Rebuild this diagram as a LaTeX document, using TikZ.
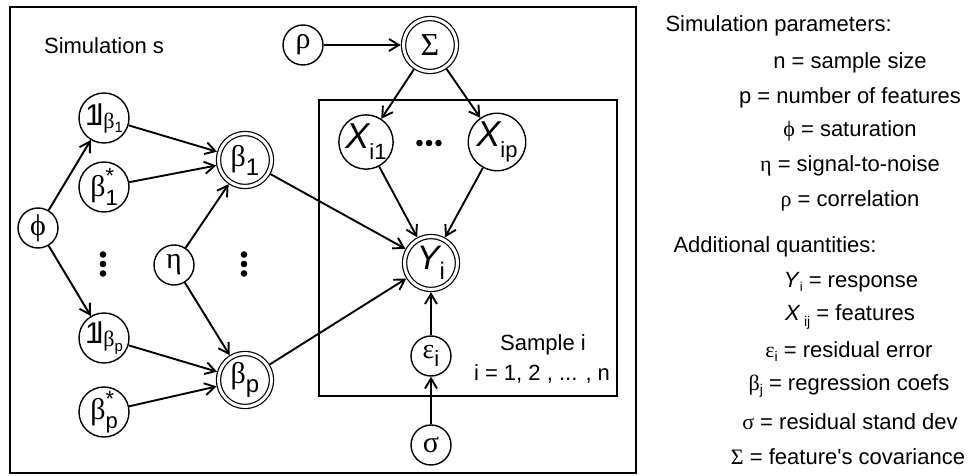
\documentclass[tikz,border=0pt]{standalone}
\usepackage{fontspec}
\setmainfont{Liberation Sans}
\newfontfamily\grk{Liberation Serif}
\usetikzlibrary{arrows.meta}
\usetikzlibrary{positioning}
\newcommand{\fs}[1]{\fontsize{#1}{#1}\selectfont}
\newcommand{\lo}[2][0.3em]{\raisebox{-#1}{#2}}
\newcommand{\indic}{{\fs{30}1\kern-.17em l}}

\begin{document}
\begin{tikzpicture}
    [x=1pt, y=-1pt, on grid,
     var/.style={circle, draw, line width=1.4pt, inner sep=0pt, minimum size=40pt},
     bigvar/.style={var, minimum size=50pt},
     dvar/.style={circle, draw, double, double distance=3pt, line width=1.2pt, inner sep=0pt, minimum size=53pt, outer sep=2.7pt},
     arr/.style={-{Straight Barb[length=10pt,width=12pt]}, line width=1.9pt},
     plate/.style={draw, line width=1.6pt},
     lbl/.style={font=\fs{22}, anchor=base},
     gk/.style={font=\grk\fs{30}}]

    \useasboundingbox (0,0) rectangle (970,476);
    \draw [plate, line width=1.8pt] (10,7) rectangle (636,473);
    \draw [plate] (319,100) rectangle (617,396);

    \node [var, gk] (phi) at (38,228) {ϕ};
    \node [bigvar] (ind1) at (104,118) {\indic\lo{\grk\fs{22}β\lo[.2em]{\normalfont\fs{15}1}}};
    \node [bigvar, below=69pt of ind1] (star1) {\grk\fs{30}β\rlap{\raisebox{.42em}{\normalfont\fs{22}*}}\lo{\normalfont\fs{22}1}};
    \node [bigvar] (indp) at (104,338) {\indic\lo{\grk\fs{22}β\lo[.2em]{\normalfont\fs{15}p}}};
    \node [bigvar, below=74pt of indp] (starp) {\grk\fs{30}β\rlap{\raisebox{.42em}{\normalfont\fs{22}*}}\lo{\normalfont\fs{22}p}};
    \node [dvar] (beta1) at (245,160) {\grk\fs{30}β\lo{\normalfont\fs{24}1}};
    \node [dvar, below=220pt of beta1] (betap) {\grk\fs{30}β\lo{\normalfont\fs{24}p}};
    \node [var, gk] (eta) at (174,265) {η};

    \node [var, gk] (rho) at (303,45) {ρ};
    \node [dvar, right=127pt of rho] (Sigma) {\grk\fs{32}Σ};
    \node [bigvar] (X1) at (366,142) {\itshape\fs{36}X\lo{\upshape\fs{22}i1}};
    \node [bigvar, right=131pt of X1] (Xp) {\itshape\fs{36}X\lo{\upshape\fs{22}ip}};
    \node [dvar] (Y) at (431,263) {\itshape\fs{34}Y\lo{\upshape\fs{24}i}};
    \node [var, below=93pt of Y] (eps) {\grk\fs{28}ε\lo{\normalfont\fs{22}i}};
    \node [var, gk, below=89pt of eps] (sigma) {σ};

    \coordinate (dotsL) at (103,264);
    \coordinate (dotsR) at (244,264);
    \coordinate (dotsX) at (429,143);
    \foreach \d in {-9.5,0,9.5} {
        \fill ([yshift=\d pt] dotsL) circle (3.3pt);
        \fill ([yshift=\d pt] dotsR) circle (3.3pt);
        \fill ([xshift=\d pt] dotsX) circle (3.3pt);
    }

    \path [arr] (phi) edge (ind1);
    \path [arr] (phi) edge (indp);
    \path [arr] (ind1) edge (beta1);
    \path [arr] (star1) edge (beta1);
    \path [arr] (eta) edge (beta1);
    \path [arr] (eta) edge (betap);
    \path [arr] (indp) edge (betap);
    \path [arr] (starp) edge (betap);
    \path [arr] (beta1) edge (Y);
    \path [arr] (betap) edge (Y);
    \path [arr] (rho) edge (Sigma);
    \path [arr] (Sigma) edge (X1);
    \path [arr] (Sigma) edge (Xp);
    \path [arr] (X1) edge (Y);
    \path [arr] (Xp) edge (Y);
    \path [arr] (eps) edge (Y);
    \path [arr] (sigma) edge (eps);

    \node [lbl] (simlbl) at (104,54) {Simulation s};
    \node [lbl] (samplbl) at (543,350) {Sample i};
    \node [lbl] (rangelbl) at (542,380) {i = 1, 2 , ... , n};

    \node [lbl, anchor=base west] (parhead) at (662,32) {Simulation parameters:};
    \node [lbl] (par1) at (850,69) {n = sample size};
    \node [lbl] (par2) at (850,104) {p = number of features};
    \node [lbl] (par3) at (850,137) {{\grk ϕ} = saturation};
    \node [lbl] (par4) at (850,172) {{\grk η} = signal-to-noise};
    \node [lbl] (par5) at (850,207) {{\grk ρ} = correlation};

    \node [lbl, anchor=base west] (qhead) at (670,252) {Additional quantities:};
    \node [lbl] (q1) at (851,287) {\textit{Y}\lo[.2em]{\fs{13}i} = response};
    \node [lbl] (q2) at (850,320) {\textit{X}\,\lo{\fs{14}ij} = features};
    \node [lbl] (q3) at (849,357) {{\grk ε}\lo[.2em]{\fs{14}i} = residual error};
    \node [lbl] (q4) at (849,390) {{\grk β}\lo[.2em]{\fs{14}j} = regression coefs};
    \node [lbl] (q5) at (850,429) {{\grk σ} = residual stand dev};
    \node [lbl] (q6) at (848,464) {{\grk Σ} = feature\textquotesingle s covariance};
\end{tikzpicture}
\end{document}
